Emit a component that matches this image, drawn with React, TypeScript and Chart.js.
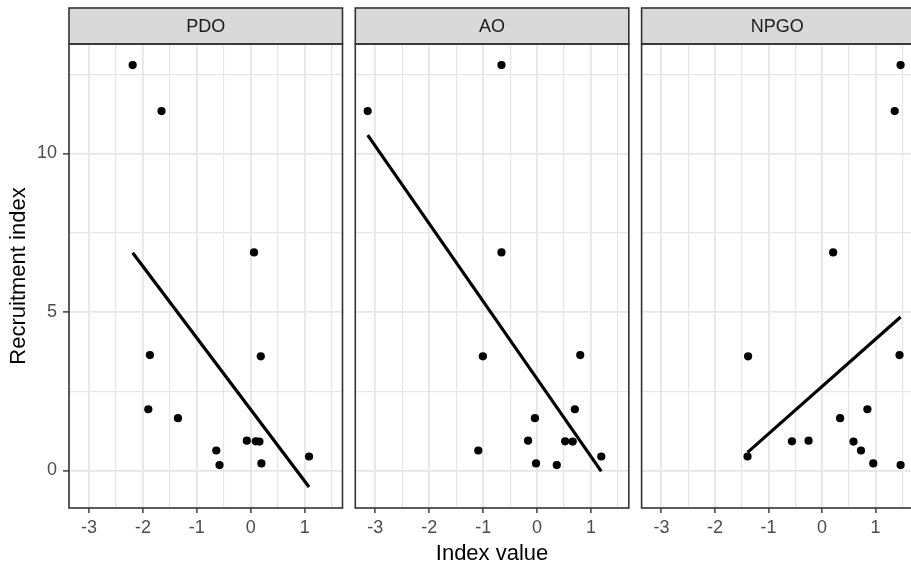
import React, { useEffect, useRef } from 'react';
import { Chart, registerables } from 'chart.js';

Chart.register(...registerables);

// ---------- data ----------
const panelLabels = ['PDO', 'AO', 'NPGO'];
const recruitment = [12.79, 11.34, 6.88, 3.64, 3.6, 1.93, 1.65, 0.94, 0.92, 0.91, 0.63, 0.44, 0.22, 0.17];
const pdoValues = [-2.19, -1.655, 0.06, -1.87, 0.185, -1.9, -1.35, -0.074, 0.093, 0.16, -0.64, 1.08, 0.197, -0.58];
const aoValues = [-0.66, -3.14, -0.66, 0.8, -1.005, 0.7, -0.04, -0.167, 0.52, 0.66, -1.09, 1.19, -0.02, 0.365];
const npgoValues = [1.47, 1.36, 0.21, 1.45, -1.38, 0.85, 0.34, -0.25, -0.56, 0.59, 0.73, -1.39, 0.96, 1.47];

// fitted (lm) line end points
const pdoFitX = [-2.19, 1.08];
const pdoFitY = [6.87, -0.52];
const aoFitX = [-3.14, 1.19];
const aoFitY = [10.58, -0.03];
const npgoFitX = [-1.39, 1.47];
const npgoFitY = [0.57, 4.84];

const xTitle = 'Index value';
const yTitle = 'Recruitment index';

// ---------- styling / layout ----------
const X_MIN = -3.37;
const X_MAX = 1.7;
const Y_MIN = -1.185;
const Y_MAX = 13.455;
const FONT = '"Liberation Sans", Arial, Helvetica, sans-serif';
const GRID = '#E6E6E6';
const DARK = '#333333';
const STRIP_TOP = 8;
const PANEL_TOP = 44;
const H = 568;

type PanelProps = {
  label: string;
  xs: number[];
  fitX: number[];
  fitY: number[];
  left: number;
  width: number;
  padL: number;
  padR: number;
  showY: boolean;
  showXTitle: boolean;
};

function Panel(p: PanelProps) {
  const ref = useRef<HTMLCanvasElement | null>(null);

  useEffect(() => {
    const canvas = ref.current;
    if (!canvas) return;

    const panelPlugin = {
      id: 'panelDeco',
      afterDraw(chart: any) {
        const { ctx, chartArea: a } = chart;
        ctx.save();
        // strip
        ctx.fillStyle = '#D9D9D9';
        ctx.fillRect(a.left, STRIP_TOP, a.right - a.left, a.top - STRIP_TOP);
        ctx.strokeStyle = DARK;
        ctx.lineWidth = 1.6;
        ctx.strokeRect(a.left, STRIP_TOP, a.right - a.left, a.top - STRIP_TOP);
        ctx.fillStyle = '#1A1A1A';
        ctx.font = `18px ${FONT}`;
        ctx.textAlign = 'center';
        ctx.textBaseline = 'middle';
        ctx.fillText(p.label, (a.left + a.right) / 2, (STRIP_TOP + a.top) / 2 + 1.3);
        // panel border
        ctx.strokeRect(a.left, a.top, a.right - a.left, a.bottom - a.top);
        ctx.restore();
      },
    };

    const isMajorX = (v: number) => Number.isInteger(v);
    const isMajorY = (v: number) => Math.abs(v % 5) < 1e-9;

    const chart = new Chart(canvas, {
      type: 'scatter',
      data: {
        datasets: [
          {
            type: 'line',
            data: p.fitX.map((x, i) => ({ x, y: p.fitY[i] })),
            borderColor: '#000000',
            borderWidth: 3.2,
            borderCapStyle: 'butt',
            pointRadius: 0,
            showLine: true,
            fill: false,
            tension: 0,
          } as any,
          {
            data: p.xs.map((x, i) => ({ x, y: recruitment[i] })),
            backgroundColor: '#000000',
            borderWidth: 0,
            pointRadius: 4.1,
            pointHoverRadius: 4.1,
          },
        ],
      },
      options: {
        animation: false,
        responsive: false,
        maintainAspectRatio: false,
        events: [],
        layout: { padding: { top: PANEL_TOP, bottom: 0, left: p.padL, right: p.padR } },
        plugins: { legend: { display: false }, tooltip: { enabled: false }, title: { display: false } },
        scales: {
          x: {
            type: 'linear',
            min: X_MIN,
            max: X_MAX,
            border: { display: false },
            grid: {
              color: GRID,
              lineWidth: (c: any) => (c.tick && isMajorX(c.tick.value) ? 1.8 : 1.2),
              tickLength: 5,
              tickWidth: 1.4,
              tickColor: (c: any) => (c.tick && isMajorX(c.tick.value) ? DARK : 'rgba(0,0,0,0)'),
            },
            ticks: {
              stepSize: 0.5,
              includeBounds: false,
              autoSkip: false,
              maxRotation: 0,
              minRotation: 0,
              padding: 4,
              color: '#4D4D4D',
              font: { family: FONT, size: 18 },
              callback: (v: any) => (isMajorX(Number(v)) ? String(v) : ''),
            },
            title: {
              display: p.showXTitle,
              text: xTitle,
              color: '#000000',
              font: { family: FONT, size: 22 },
              padding: { top: 0, bottom: 1 },
            },
            afterFit: (s: any) => {
              s.height = H - 508;
            },
          },
          y: {
            type: 'linear',
            min: Y_MIN,
            max: Y_MAX,
            border: { display: false },
            grid: {
              color: GRID,
              drawTicks: p.showY,
              lineWidth: (c: any) => (c.tick && isMajorY(c.tick.value) ? 1.8 : 1.2),
              tickLength: 6,
              tickWidth: 1.4,
              tickColor: (c: any) => (c.tick && isMajorY(c.tick.value) ? DARK : 'rgba(0,0,0,0)'),
            },
            ticks: {
              display: p.showY,
              stepSize: 2.5,
              includeBounds: false,
              autoSkip: false,
              padding: 6,
              color: '#4D4D4D',
              font: { family: FONT, size: 18 },
              callback: (v: any) => (isMajorY(Number(v)) ? String(v) : ''),
            },
            title: {
              display: p.showY,
              text: yTitle,
              color: '#000000',
              font: { family: FONT, size: 22 },
              padding: { top: 6, bottom: 0 },
            },
            afterFit: (s: any) => {
              s.width = p.showY ? 69 : 0;
            },
          },
        },
      } as any,
      plugins: [panelPlugin],
    });

    return () => chart.destroy();
  }, []);

  return (
    <canvas
      ref={ref}
      width={p.width}
      height={H}
      style={{ position: 'absolute', left: p.left, top: 0, width: p.width, height: H, display: 'block' }}
    />
  );
}

export default function App() {
  return (
    <div
      style={{
        position: 'absolute',
        left: 0,
        top: 0,
        width: 911,
        height: H,
        overflow: 'hidden',
        background: '#ffffff',
      }}
    >
      <Panel label={panelLabels[0]} xs={pdoValues} fitX={pdoFitX} fitY={pdoFitY}
        left={0} width={349} padL={0} padR={6.5} showY={true} showXTitle={false} />
      <Panel label={panelLabels[1]} xs={aoValues} fitX={aoFitX} fitY={aoFitY}
        left={349} width={286} padL={6.3} padR={6.2} showY={false} showXTitle={true} />
      <Panel label={panelLabels[2]} xs={npgoValues} fitX={npgoFitX} fitY={npgoFitY}
        left={635} width={282} padL={6.6} padR={1.9} showY={false} showXTitle={false} />
    </div>
  );
}
